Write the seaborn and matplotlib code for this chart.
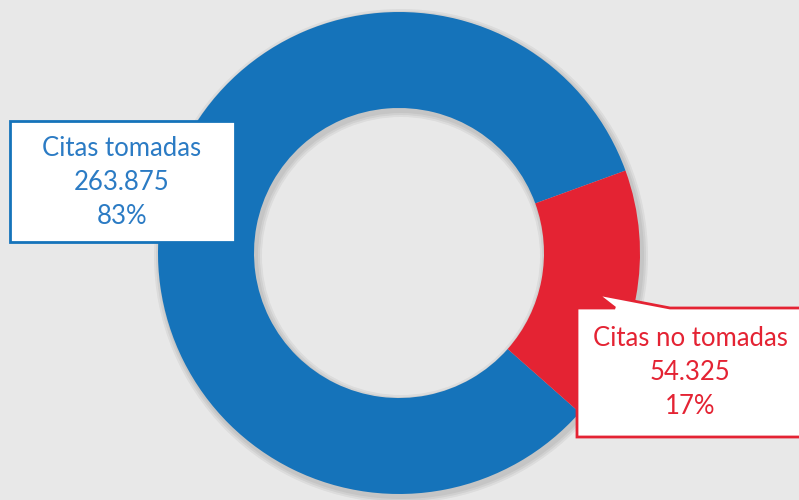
import matplotlib
matplotlib.use("Agg")
import matplotlib.pyplot as plt
import seaborn as sns
from matplotlib.patches import Rectangle, Polygon

categories = ["Citas tomadas", "Citas no tomadas"]
values = [263875, 54325]
value_labels = ["263.875", "54.325"]
pct_labels = ["83%", "17%"]
colors = ["#1573BA", "#E42333"]
text_colors = ["#2B7BC4", "#E42333"]

sns.set_theme(style="white")
plt.rcParams['font.family'] = ['Lato', 'DejaVu Sans']

fig = plt.figure(figsize=(7.99, 5.0), dpi=100)
fig.patch.set_facecolor("#e8e8e8")
ax = fig.add_axes([0, 0, 1, 1])
ax.set_facecolor("#e8e8e8")

cx, cy, R, W = 399, 247, 241, 96
# soft shadow
for i, a in enumerate([0.05, 0.05, 0.05]):
    ax.pie([1], colors=["#000000"], radius=R + 2 + i * 2, center=(cx + 2, cy - 3),
           wedgeprops=dict(width=W + 4 + i * 4, alpha=a, linewidth=0), frame=True)
ax.pie(values, colors=colors, startangle=20, counterclock=True, radius=R,
       center=(cx, cy), wedgeprops=dict(width=W, linewidth=0), frame=True)

# left label box
ax.add_patch(Rectangle((10, 258), 225, 121, facecolor="white", edgecolor=colors[0],
                       linewidth=2, zorder=5))
ax.text(122, 318, f"{categories[0]}\n{value_labels[0]}\n{pct_labels[0]}",
        ha="center", va="center", color=text_colors[0], fontsize=18.5,
        fontweight="normal", linespacing=1.45, zorder=6)

# right callout
ax.add_patch(Polygon([(577, 63), (577, 192), (615, 192), (597, 206), (670, 192),
                      (840, 192), (840, 63)], closed=True, facecolor="white",
                     edgecolor=colors[1], linewidth=2, zorder=5))
ax.text(690, 128, f"{categories[1]}\n{value_labels[1]}\n{pct_labels[1]}",
        ha="center", va="center", color=text_colors[1], fontsize=18.5,
        fontweight="normal", linespacing=1.45, zorder=6)

ax.set_xlim(0, 799)
ax.set_ylim(0, 500)
ax.set_aspect("equal")
ax.axis("off")
fig.savefig("out.png", dpi=100, facecolor=fig.get_facecolor())
